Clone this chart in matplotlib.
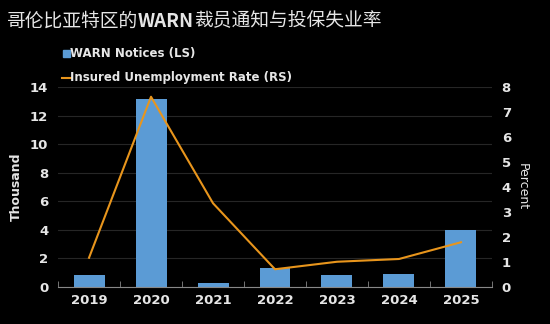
import numpy as np
import matplotlib.pyplot as plt

plt.rcParams['font.family'] = ['Noto Sans CJK SC', 'DejaVu Sans']

years = ["2019", "2020", "2021", "2022", "2023", "2024", "2025"]
warn_notices = [0.86, 13.13, 0.30, 1.31, 0.82, 0.91, 3.99]   # thousand
insured_rate = [1.17, 7.61, 3.35, 0.71, 1.01, 1.12, 1.79]     # percent

bar_color = "#5b9bd5"
line_color = "#e8951c"
text_color = "#e6e6e6"
grid_color = "#262626"

fig = plt.figure(figsize=(5.5, 3.24), dpi=100, facecolor="black")
ax = fig.add_axes([0.1055, 0.1142, 0.789, 0.6173], facecolor="black")
ax2 = ax.twinx()

x = np.arange(len(years))
ax.bar(x, warn_notices, width=0.5, color=bar_color, zorder=2)
ax2.plot(x, insured_rate, color=line_color, linewidth=1.5, zorder=3)

ax.set_xlim(-0.5, len(years) - 0.5)
ax.set_ylim(0, 14)
ax.set_yticks(range(0, 15, 2))
ax2.set_ylim(0, 8)
ax2.set_yticks(range(0, 9))

ax.set_xticks(x, years)
ax.set_xticks(np.arange(-0.5, len(years)), minor=True)
ax.tick_params(axis="x", which="major", length=0, colors=text_color, labelsize=9.5, pad=5)
ax.tick_params(axis="x", which="minor", length=4, color="#888888", direction="in")
ax.tick_params(axis="y", length=0, colors=text_color, labelsize=9.5, pad=7)
ax2.tick_params(axis="y", length=0, colors=text_color, labelsize=9.5, pad=7)
for lab in ax.get_xticklabels() + ax.get_yticklabels() + ax2.get_yticklabels():
    lab.set_fontweight("bold")
    lab.set_family("DejaVu Sans")

ax.grid(axis="y", color=grid_color, linewidth=0.8, zorder=0)
ax.set_axisbelow(True)
for a in (ax, ax2):
    for s in ("top", "left", "right"):
        a.spines[s].set_visible(False)
    a.spines["bottom"].set_color("#888888")
ax2.spines["bottom"].set_visible(False)

ax.set_ylabel("Thousand", color=text_color, fontsize=9, fontweight="bold", labelpad=5,
              family="DejaVu Sans")
ax2.set_ylabel("Percent", color=text_color, fontsize=9, rotation=270, labelpad=13,
               family="DejaVu Sans")

# title in three pieces so that WARN can be bold
renderer = fig.canvas.get_renderer()
xpos = 0.012
for piece, weight in [("哥伦比亚特区的", "normal"), ("WARN", "bold"), ("裁员通知与投保失业率", "normal")]:
    t = fig.text(xpos, 0.935, piece, color=text_color, fontsize=13.5, va="center", ha="left",
                 fontweight=weight)
    bb = t.get_window_extent(renderer)
    xpos += bb.width / fig.bbox.width

# legend
fig.patches.append(plt.Rectangle((0.115, 0.823), 0.013, 0.022, color=bar_color,
                                 transform=fig.transFigure, figure=fig))
fig.text(0.128, 0.834, "WARN Notices (LS)", color=text_color, fontsize=8.5,
         fontweight="bold", va="center", family="DejaVu Sans")
fig.lines.append(plt.Line2D([0.113, 0.129], [0.760, 0.760], color=line_color, linewidth=1.5,
                            transform=fig.transFigure, figure=fig))
fig.text(0.128, 0.760, "Insured Unemployment Rate (RS)", color=text_color, fontsize=8.5,
         fontweight="bold", va="center", family="DejaVu Sans")

fig.savefig("out.png", dpi=100, facecolor="black")
